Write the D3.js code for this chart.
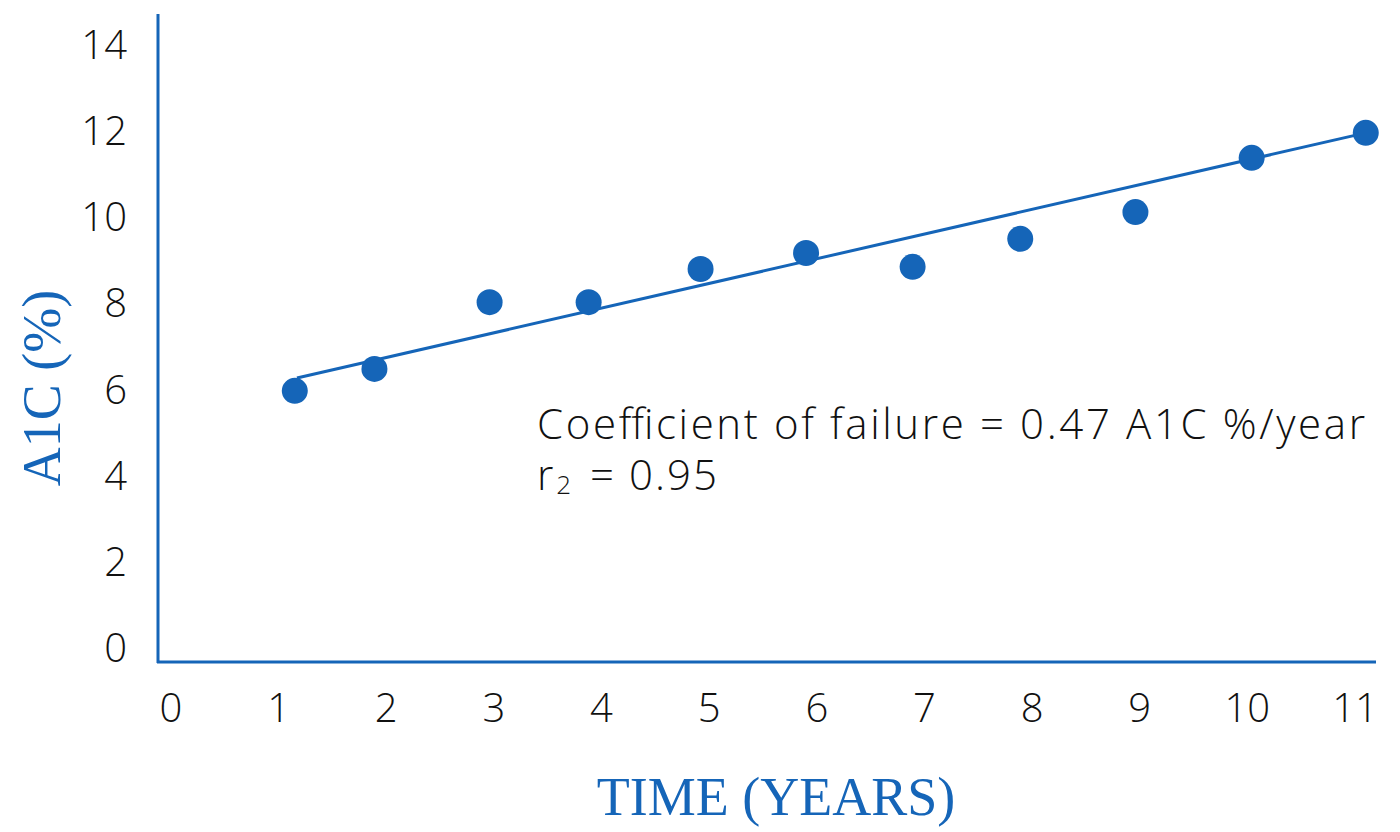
<!DOCTYPE html>
<html><head><meta charset="utf-8">
<script src="https://cdn.jsdelivr.net/npm/d3@7"></script>
<style>body{margin:0;background:#fff}</style>
</head><body>
<svg id="chart" width="1400" height="832"></svg>
<script>
// data
const years = [1.15, 1.89, 2.96, 3.88, 4.92, 5.9, 6.89, 7.89, 8.96, 10.04, 11.1];
const a1c = [5.97, 6.48, 8.03, 8.03, 8.8, 9.17, 8.85, 9.5, 10.12, 11.38, 11.96];
const fitX = [1.17, 11.1];
const fitY = [6.27, 11.96];
const xTicks = [0, 1, 2, 3, 4, 5, 6, 7, 8, 9, 10, 11];
const yTicks = [0, 2, 4, 6, 8, 10, 12, 14];
const blue = "#1565b8";

const svg = d3.select('#chart');
const x = d3.scaleLinear().domain([0, 11]).range([171, 1355]);
const y = d3.scaleLinear().domain([0, 14]).range([648, 45]);

// axis lines
svg.append('line').attr('x1', 158).attr('x2', 158).attr('y1', 14).attr('y2', 663)
    .attr('stroke', blue).attr('stroke-width', 3);
svg.append('line').attr('x1', 157).attr('x2', 1376).attr('y1', 662).attr('y2', 662)
    .attr('stroke', blue).attr('stroke-width', 3);

const tickFont = "'Open Sans', sans-serif";
svg.selectAll('.yt').data(yTicks).enter().append('text')
    .attr('x', 127).attr('y', d => y(d) + 14)
    .attr('text-anchor', 'end').style('font-family', tickFont).style('font-weight', 300)
    .style('font-size', '40px').attr('fill', '#111').text(d => d);
svg.selectAll('.xt').data(xTicks).enter().append('text')
    .attr('x', d => x(d)).attr('y', 722)
    .attr('text-anchor', 'middle').style('font-family', tickFont).style('font-weight', 300)
    .style('font-size', '40px').attr('fill', '#111').text(d => d);

// fit line
svg.append('line')
    .attr('x1', x(fitX[0])).attr('y1', y(fitY[0]))
    .attr('x2', x(fitX[1])).attr('y2', y(fitY[1]))
    .attr('stroke', blue).attr('stroke-width', 3);

// points
svg.selectAll('.pt').data(years).enter().append('circle')
    .attr('cx', d => x(d)).attr('cy', (d, i) => y(a1c[i]))
    .attr('r', 13).attr('fill', blue);

// annotation
svg.append('text').attr('x', 537).attr('y', 439)
    .style('font-family', tickFont).style('font-weight', 300).style('font-size', '42px')
    .attr('textLength', 828).attr('lengthAdjust', 'spacing')
    .attr('fill', '#111').text('Coefficient of failure = 0.47 A1C %/year');
const r = svg.append('text').attr('x', 537).attr('y', 490)
    .style('font-family', tickFont).style('font-weight', 300).style('font-size', '42px')
    .attr('fill', '#111');
r.append('tspan').text('r');
r.append('tspan').attr('dx', 3).attr('dy', 4).style('font-size', '26px').text('2');
r.append('tspan').attr('dy', -4).attr('dx', 6).style('letter-spacing', '2px').text(' = 0.95');

// axis titles
svg.append('text').attr('x', 776).attr('y', 815).attr('text-anchor', 'middle')
    .style('font-family', "'Liberation Serif', serif").style('font-size', '54px')
    .attr('fill', blue).text('TIME (YEARS)');
svg.append('text').attr('transform', 'translate(60,388) rotate(-90)').attr('text-anchor', 'middle')
    .style('font-family', "'Liberation Serif', serif").style('font-size', '54px')
    .attr('fill', blue).text('A1C (%)');
</script>
</body></html>
